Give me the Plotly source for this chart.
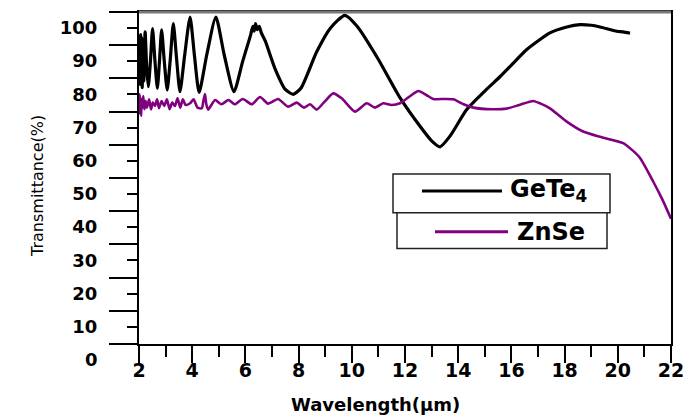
import plotly.graph_objects as go

# ---------------- data ----------------
gete4_wavelength = [2.00, 2.02, 2.04, 2.06, 2.08, 2.10, 2.12, 2.15, 2.18, 2.23, 2.29, 2.35,
                    2.43, 2.51, 2.60, 2.69, 2.77, 2.85, 2.95, 3.06, 3.17, 3.29, 3.41, 3.54,
                    3.72, 3.92, 4.08, 4.26, 4.55, 4.89, 5.20, 5.57, 5.90, 6.20, 6.28, 6.33,
                    6.38, 6.45, 6.52, 6.60, 6.75, 7.10, 7.50, 7.80, 8.10, 8.68, 9.20, 9.74,
                    10.20, 11.00, 11.81, 12.60, 13.00, 13.32, 13.70, 14.32, 15.00, 15.57,
                    16.00, 16.58, 17.45, 18.08, 18.58, 19.00, 19.33, 19.96, 20.20, 20.46]
gete4_transmittance = [84, 97, 83, 98, 85, 97, 82, 95, 84, 98.8, 88, 82.3,
                       90, 99.8, 90, 81.8, 90, 99.4, 90, 81.3, 90, 101.3, 91, 80.8,
                       92, 103.3, 92, 80.6, 92, 103.3, 92, 80.8, 90, 98, 100.5, 99,
                       101.3, 99.5, 100.5, 98.5, 96, 88, 81.5, 80, 82, 92.8, 100, 103.8,
                       100.5, 90.5, 79, 70, 66, 64.2, 67.5, 75.4, 81, 85.3,
                       88.8, 93.5, 98.5, 100.3, 101, 100.8, 100.3, 99, 98.8, 98.4]

znse_wavelength = [2.00, 2.02, 2.04, 2.06, 2.08, 2.10, 2.13, 2.16, 2.20, 2.25, 2.30, 2.38,
                   2.45, 2.52, 2.60, 2.68, 2.75, 2.85, 2.95, 3.05, 3.15, 3.25, 3.35, 3.45,
                   3.55, 3.65, 3.75, 3.92, 4.05, 4.20, 4.36, 4.42, 4.48, 4.53, 4.60, 4.86,
                   5.10, 5.36, 5.60, 5.90, 6.24, 6.55, 6.85, 7.23, 7.60, 7.93, 8.20, 8.43,
                   8.68, 9.00, 9.30, 9.62, 10.12, 10.56, 10.87, 11.18, 11.50, 11.81, 12.20,
                   12.50, 12.80, 13.06, 13.50, 13.82, 14.20, 14.57, 15.30, 15.82, 16.30,
                   16.82, 17.10, 17.45, 18.08, 18.70, 19.33, 20.20, 20.50, 20.83, 21.32,
                   21.70, 22.00]
znse_transmittance = [74, 80, 75, 79, 73.5, 78.5, 76, 79.5, 75.5, 78, 76, 78.5,
                      75.5, 77.5, 76.5, 78.5, 75.8, 78, 76.5, 78.5, 75.5, 77.5, 76.5, 78.8,
                      76, 78.5, 76.8, 77.3, 78.5, 76, 75.8, 78, 80.1, 77, 75.4, 78.3,
                      77, 78.3, 77, 78.6, 77, 79.2, 77.2, 78.6, 76.3, 77.5, 76, 77,
                      75.4, 78, 80.3, 78.8, 74.8, 77.3, 76, 77.3, 76.8, 77.3, 79.5,
                      81, 79.8, 78.6, 78.6, 78.5, 77, 76, 75.5, 75.7, 76.8,
                      78, 77.2, 75.8, 71.8, 68.8, 67.2, 65.3, 63.5, 60.9, 53.9,
                      47.9, 42.5]

series_names = ["GeTe<sub>4</sub>", "ZnSe"]
series_colors = ["black", "#800080"]
x_tick_values = list(range(2, 23, 2))
y_tick_values = list(range(10, 101, 10))
y_min, y_max = 4.8, 104.8

# ---------------- figure ----------------
fig = go.Figure()
fig.add_trace(go.Scatter(x=gete4_wavelength, y=gete4_transmittance, mode="lines",
                         line=dict(color=series_colors[0], width=3.2, shape="spline", smoothing=0.6),
                         name="GeTe4", showlegend=False))
fig.add_trace(go.Scatter(x=znse_wavelength, y=znse_transmittance, mode="lines",
                         line=dict(color=series_colors[1], width=2.6, shape="spline", smoothing=0.6),
                         name="ZnSe", showlegend=False))

tick_font = dict(family="DejaVu Sans", size=18, color="black", weight="bold")

fig.update_layout(
    width=697, height=416,
    margin=dict(l=139, r=26, t=10, b=72),
    paper_bgcolor="white", plot_bgcolor="white",
    xaxis=dict(range=[2, 22], tickmode="array", tickvals=x_tick_values,
               ticks="outside", ticklen=17, tickwidth=2, tickcolor="black",
               ticklabelstandoff=-9,
               minor=dict(ticks="outside", dtick=1, tick0=2, ticklen=11, tickwidth=2, tickcolor="black"),
               showline=True, linecolor="black", linewidth=2, mirror=True,
               showgrid=False, zeroline=False, tickfont=dict(tick_font, size=19)),
    yaxis=dict(range=[y_min, y_max], tickmode="array", tickvals=y_tick_values,
               ticks="outside", ticklen=10, tickwidth=2, tickcolor="black",
               ticklabelstandoff=26,
               minor=dict(ticks="outside", tick0=y_min, dtick=10, ticklen=28, tickwidth=2, tickcolor="black"),
               showline=True, linecolor="black", linewidth=2, mirror=True,
               showgrid=False, zeroline=False, tickfont=tick_font),
)

# top border is grey in the reference
fig.add_shape(type="line", xref="paper", yref="paper", x0=0, x1=1, y0=1, y1=1,
              line=dict(color="#777777", width=3))

# "0" label that sits just below the axis
fig.add_annotation(xref="paper", yref="paper", x=(100 - 139) / 532, y=(0 - y_min) / (y_max - y_min),
                   text="0", showarrow=False, xanchor="right", yanchor="middle", font=tick_font)

# axis titles
fig.add_annotation(xref="paper", yref="paper", x=(375 - 139) / 532, y=(344 - 405) / 334,
                   text="Wavelength(\u00b5m)", showarrow=False, xanchor="center", yanchor="middle",
                   font=dict(family="DejaVu Sans", size=18, color="black", weight="bold"))
fig.add_annotation(xref="paper", yref="paper", x=(38 - 139) / 532, y=(344 - 185) / 334,
                   text="Transmittance(%)", showarrow=False, textangle=-90,
                   xanchor="center", yanchor="middle",
                   font=dict(family="DejaVu Sans", size=16, color="black"))

# custom legend (two stacked boxes)
def px(xp):
    return (xp - 139) / 532

def py(yp):
    return (344 - yp) / 334

legend_boxes = [(393, 173, 610, 212), (397, 212, 607, 248)]
legend_lines = [(422, 502, 190), (435, 508, 231)]
legend_text_x = [508, 515]
for i, name in enumerate(series_names):
    bx0, by0, bx1, by1 = legend_boxes[i]
    fig.add_shape(type="rect", xref="paper", yref="paper", x0=px(bx0), x1=px(bx1), y0=py(by1), y1=py(by0),
                  line=dict(color="#222222", width=1.5), fillcolor="white")
    lx0, lx1, ly = legend_lines[i]
    fig.add_shape(type="line", xref="paper", yref="paper", x0=px(lx0), x1=px(lx1), y0=py(ly), y1=py(ly),
                  line=dict(color=series_colors[i], width=3))
    fig.add_annotation(xref="paper", yref="paper", x=px(legend_text_x[i]), y=py(ly),
                       text=name, showarrow=False, xanchor="left", yanchor="middle",
                       font=dict(family="DejaVu Sans", size=24, color="black", weight="bold"))

fig.write_html("out.html")
